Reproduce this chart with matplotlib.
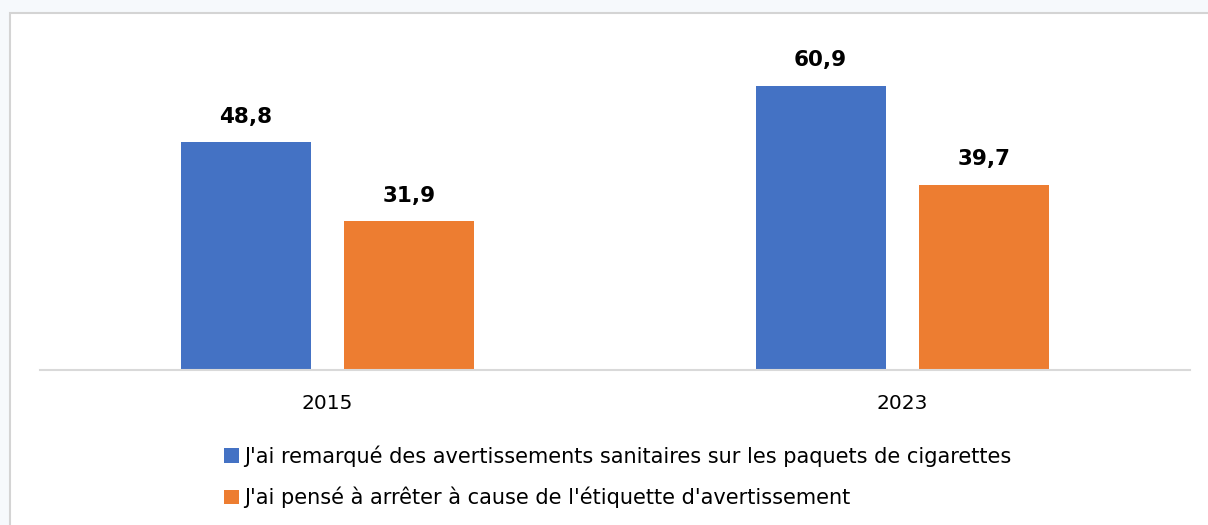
import matplotlib.pyplot as plt
import numpy as np
from matplotlib.patches import Rectangle

years = ['2015', '2023']
remarque = [48.8, 60.9]
pense = [31.9, 39.7]
labels = ["J'ai remarqué des avertissements sanitaires sur les paquets de cigarettes",
          "J'ai pensé à arrêter à cause de l'étiquette d'avertissement"]

W, H = 1208, 525
fig = plt.figure(figsize=(W / 100, H / 100), dpi=100)
fig.patch.set_facecolor('#f6f9fc')

# white chart box with a grey border (cut by the image edges)
box = Rectangle((10 / W, -0.05), 1.1, (H - 13) / H + 0.05,
                transform=fig.transFigure, facecolor='white',
                edgecolor='#d4d4d4', lw=1.5, zorder=-5)
fig.patches.append(box)

ax = fig.add_axes([40 / W, (H - 370) / H, 1150 / W, 327 / H])
ax.set_zorder(2)
ax.set_facecolor('none')

x = np.arange(len(years))
w = 0.226
off = 0.1425
b1 = ax.bar(x - off, remarque, w, color='#4472C4', label=labels[0])
b2 = ax.bar(x + off, pense, w, color='#ED7D31', label=labels[1])

for bars, vals in ((b1, remarque), (b2, pense)):
    for r, v in zip(bars, vals):
        ax.annotate(f'{v:.1f}'.replace('.', ','), (r.get_x() + r.get_width() / 2, v),
                    xytext=(0, 11), textcoords='offset points', ha='center', va='bottom',
                    fontsize=15.5, fontweight='bold', color='black')

ax.set_xlim(-0.5, 1.5)
ax.set_ylim(0, 70)
ax.set_xticks(x)
ax.set_xticklabels(years, fontsize=14.5)
ax.tick_params(axis='x', length=0, pad=17)
ax.set_yticks([])
for s in ['top', 'right', 'left']:
    ax.spines[s].set_visible(False)
ax.spines['bottom'].set_color('#d9d9d9')
ax.spines['bottom'].set_linewidth(1.5)

fig.legend(handles=[b1, b2], loc='upper left', bbox_to_anchor=(216 / W, (H - 437) / H),
           ncol=1, frameon=False, fontsize=15, handlelength=0.7, handleheight=0.7,
           handletextpad=0.25, labelspacing=0.95, borderaxespad=0)

fig.savefig('out.png', dpi=100, facecolor=fig.get_facecolor())
